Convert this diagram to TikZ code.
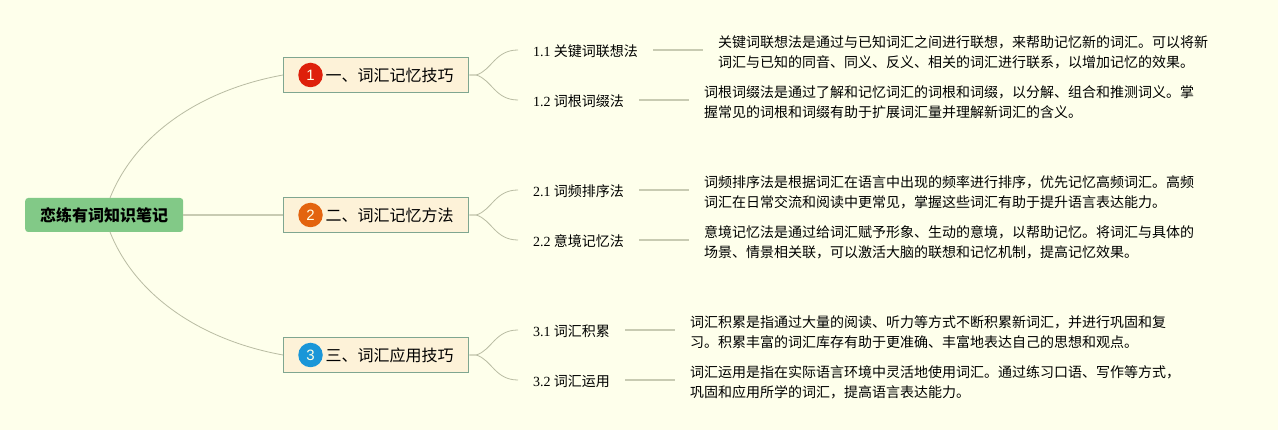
\documentclass[tikz,border=0pt]{standalone}
\usepackage{fontspec}
\setmainfont{Noto Sans CJK SC}
\newfontfamily\numfont{Liberation Serif}
\newfontfamily\badgefont{Liberation Sans}
\definecolor{paper}{HTML}{FEFFEB}
\definecolor{linkline}{HTML}{B9BCA3}
\definecolor{stubline}{HTML}{C8CBB2}
\definecolor{rootfill}{HTML}{82C987}
\definecolor{topicfill}{HTML}{FDF2D8}
\definecolor{topicedge}{HTML}{7FA690}
\definecolor{badgered}{HTML}{DE200B}
\definecolor{badgeorange}{HTML}{E3640F}
\definecolor{badgeblue}{HTML}{1A96D8}
\tikzstyle{root}=[anchor=west, fill=rootfill, rounded corners=3pt, minimum width=158pt, minimum height=34pt, inner sep=0pt, text height=15pt, text depth=1pt, font=\fontsize{16}{20}\selectfont\bfseries]
\tikzstyle{topic}=[anchor=west, draw=topicedge, fill=topicfill, line width=1.3pt, minimum width=185pt, minimum height=35pt, inner xsep=15pt, inner ysep=0pt, text height=15pt, text depth=1pt, font=\fontsize{16}{20}\selectfont]
\tikzstyle{badge}=[circle, minimum size=24.5pt, inner sep=0pt, text=white!90!yellow, font=\fontsize{15}{18}\selectfont\badgefont]
\tikzstyle{sub}=[anchor=west, inner xsep=15pt, inner ysep=2pt, text height=14pt, text depth=1.6pt, font=\fontsize{14}{20}\selectfont]
\tikzstyle{detail}=[anchor=west, inner xsep=15pt, inner ysep=2pt, align=left, font=\fontsize{14}{20}\selectfont]
\tikzstyle{link}=[draw=linkline, line width=0.8pt]
\tikzstyle{stub}=[draw=stubline, line width=1.5pt]

\begin{document}
\begin{tikzpicture}[x=1pt, y=-1pt]
        \fill[paper] (0, 0) rectangle (1278, 430);
        \useasboundingbox (0, 0) rectangle (1278, 430);

        % centro
        \node[root] (root) at (25, 215) {恋练有词知识笔记};
        \coordinate (rootup) at (110, 198);
        \coordinate (rootdown) at (110, 232);

        % ramas
        \node[topic] (t1) at (283, 75) {\hspace*{27pt}一、词汇记忆技巧};
        \node[topic] (t2) at (283, 215) {\hspace*{27pt}二、词汇记忆方法};
        \node[topic] (t3) at (283, 355) {\hspace*{27pt}三、词汇应用技巧};
        \node[badge, fill=badgered] (b1) at (310.5, 75) {1};
        \node[badge, fill=badgeorange] (b2) at (310.5, 215) {2};
        \node[badge, fill=badgeblue] (b3) at (310.5, 355) {3};

        % subtemas
        \node[sub] (s11) at (518, 50) {{\numfont 1.1} 关键词联想法};
        \node[sub] (s12) at (518, 100) {{\numfont 1.2} 词根词缀法};
        \node[sub] (s21) at (518, 190) {{\numfont 2.1} 词频排序法};
        \node[sub] (s22) at (518, 240) {{\numfont 2.2} 意境记忆法};
        \node[sub] (s31) at (518, 330) {{\numfont 3.1} 词汇积累};
        \node[sub] (s32) at (518, 380) {{\numfont 3.2} 词汇运用};

        % textos
        \node[detail] (d11) at (703, 52) {关键词联想法是通过与已知词汇之间进行联想，来帮助记忆新的词汇。可以将新\\词汇与已知的同音、同义、反义、相关的词汇进行联系，以增加记忆的效果。};
        \node[detail] (d12) at (689, 102) {词根词缀法是通过了解和记忆词汇的词根和词缀，以分解、组合和推测词义。掌\\握常见的词根和词缀有助于扩展词汇量并理解新词汇的含义。};
        \node[detail] (d21) at (689, 192) {词频排序法是根据词汇在语言中出现的频率进行排序，优先记忆高频词汇。高频\\词汇在日常交流和阅读中更常见，掌握这些词汇有助于提升语言表达能力。};
        \node[detail] (d22) at (689, 242) {意境记忆法是通过给词汇赋予形象、生动的意境，以帮助记忆。将词汇与具体的\\场景、情景相关联，可以激活大脑的联想和记忆机制，提高记忆效果。};
        \node[detail] (d31) at (675, 332) {词汇积累是指通过大量的阅读、听力等方式不断积累新词汇，并进行巩固和复\\习。积累丰富的词汇库存有助于更准确、丰富地表达自己的思想和观点。};
        \node[detail] (d32) at (675, 382) {词汇运用是指在实际语言环境中灵活地使用词汇。通过练习口语、写作等方式，\\巩固和应用所学的词汇，提高语言表达能力。};

        % enlaces centro - ramas
        \draw[link] (rootup) .. controls (135, 135) and (200, 90) .. (t1.west);
        \draw[stub] (root.east) -- (t2.west);
        \draw[link] (rootdown) .. controls (135, 295) and (200, 340) .. (t3.west);

        % enlaces ramas - subtemas
        \draw[link] (t1.east) -- ++(7, 0) .. controls (492, 70) and (495, 50) .. (s11.west);
        \draw[link] (t1.east) -- ++(7, 0) .. controls (492, 80) and (495, 100) .. (s12.west);
        \draw[link] (t2.east) -- ++(7, 0) .. controls (492, 210) and (495, 190) .. (s21.west);
        \draw[link] (t2.east) -- ++(7, 0) .. controls (492, 220) and (495, 240) .. (s22.west);
        \draw[link] (t3.east) -- ++(7, 0) .. controls (492, 350) and (495, 330) .. (s31.west);
        \draw[link] (t3.east) -- ++(7, 0) .. controls (492, 360) and (495, 380) .. (s32.west);

        % enlaces subtemas - textos
        \draw[stub] (s11.east) -- (s11.east -| d11.west);
        \draw[stub] (s12.east) -- (s12.east -| d12.west);
        \draw[stub] (s21.east) -- (s21.east -| d21.west);
        \draw[stub] (s22.east) -- (s22.east -| d22.west);
        \draw[stub] (s31.east) -- (s31.east -| d31.west);
        \draw[stub] (s32.east) -- (s32.east -| d32.west);
    \end{tikzpicture}
\end{document}
